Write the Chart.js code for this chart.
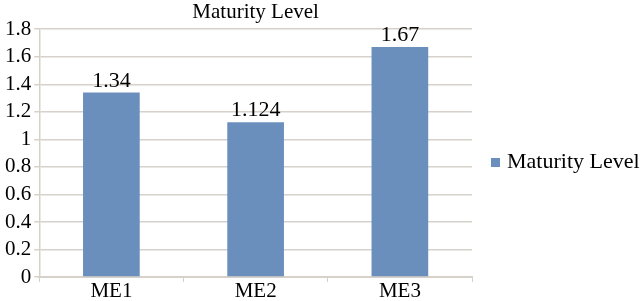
<!DOCTYPE html>
<html>
<head>
<meta charset="utf-8">
<script src="https://cdn.jsdelivr.net/npm/chart.js@4.4.1/dist/chart.umd.min.js"></script>
<style>
  html, body { margin: 0; padding: 0; background: #fff; }
  #wrap { width: 640px; height: 301px; }
</style>
</head>
<body>
<div id="wrap"><canvas id="maturity-chart"></canvas></div>
<script>
const categories = ['ME1', 'ME2', 'ME3'];
const maturityValues = [1.34, 1.124, 1.67];
const valueLabels = ['1.34', '1.124', '1.67'];
const yTickLabels = ['0', '0.2', '0.4', '0.6', '0.8', '1', '1.2', '1.4', '1.6', '1.8'];

const serif = 'Liberation Serif';
const gridColor = '#d6d1cb';
const barColor = '#6b8fbd';

// value labels above each bar
const valueLabelPlugin = {
    id: 'valueLabels',
    afterDatasetsDraw(chart) {
        const ctx = chart.ctx;
        const meta = chart.getDatasetMeta(0);
        ctx.save();
        ctx.font = `22px "${serif}"`;
        ctx.fillStyle = '#000';
        ctx.textAlign = 'center';
        ctx.textBaseline = 'alphabetic';
        meta.data.forEach((bar, i) => {
            ctx.fillText(valueLabels[i], bar.x, bar.y - 6);
        });
        ctx.restore();
    }
};

new Chart(document.getElementById('maturity-chart'), {
    type: 'bar',
    data: {
        labels: categories,
        datasets: [
            {
                label: 'Maturity Level',
                data: maturityValues,
                backgroundColor: barColor,
                borderWidth: 0,
                barPercentage: 0.393,
                categoryPercentage: 1
            }
        ]
    },
    options: {
        responsive: true,
        maintainAspectRatio: false,
        animation: false,
        layout: { padding: { left: 2, top: 0, right: 0, bottom: 0 } },
        plugins: {
            title: {
                display: true,
                text: 'Maturity Level',
                fullSize: false,
                color: '#000',
                font: { family: serif, size: 21, weight: 'normal', lineHeight: 1.2 },
                padding: { top: 0, bottom: 4 }
            },
            legend: {
                position: 'right',
                maxWidth: 168,
                title: {
                    display: true,
                    text: ' ',
                    font: { family: serif, size: 20, lineHeight: 1 },
                    padding: 2
                },
                labels: {
                    color: '#000',
                    font: { family: serif, size: 22 },
                    usePointStyle: true,
                    pointStyle: 'rect',
                    boxWidth: 1,
                    boxHeight: 9,
                    padding: 23
                }
            },
            tooltip: { enabled: false }
        },
        scales: {
            x: {
                grid: {
                    display: true,
                    drawOnChartArea: false,
                    drawTicks: true,
                    tickLength: 5,
                    color: gridColor,
                    offset: true
                },
                border: { display: true, color: gridColor, width: 2 },
                ticks: {
                    color: '#000',
                    padding: 0,
                    font: { family: serif, size: 21, lineHeight: 0.9 }
                }
            },
            y: {
                min: 0,
                max: 1.8,
                grid: {
                    color: gridColor,
                    lineWidth: 1.5,
                    tickLength: 5
                },
                border: { display: true, color: gridColor, width: 1.5 },
                ticks: {
                    stepSize: 0.2,
                    autoSkip: false,
                    color: '#000',
                    padding: 3,
                    font: { family: serif, size: 21, lineHeight: 1.2 },
                    callback: (value, index) => yTickLabels[index]
                }
            }
        }
    },
    plugins: [valueLabelPlugin]
});
</script>
</body>
</html>
